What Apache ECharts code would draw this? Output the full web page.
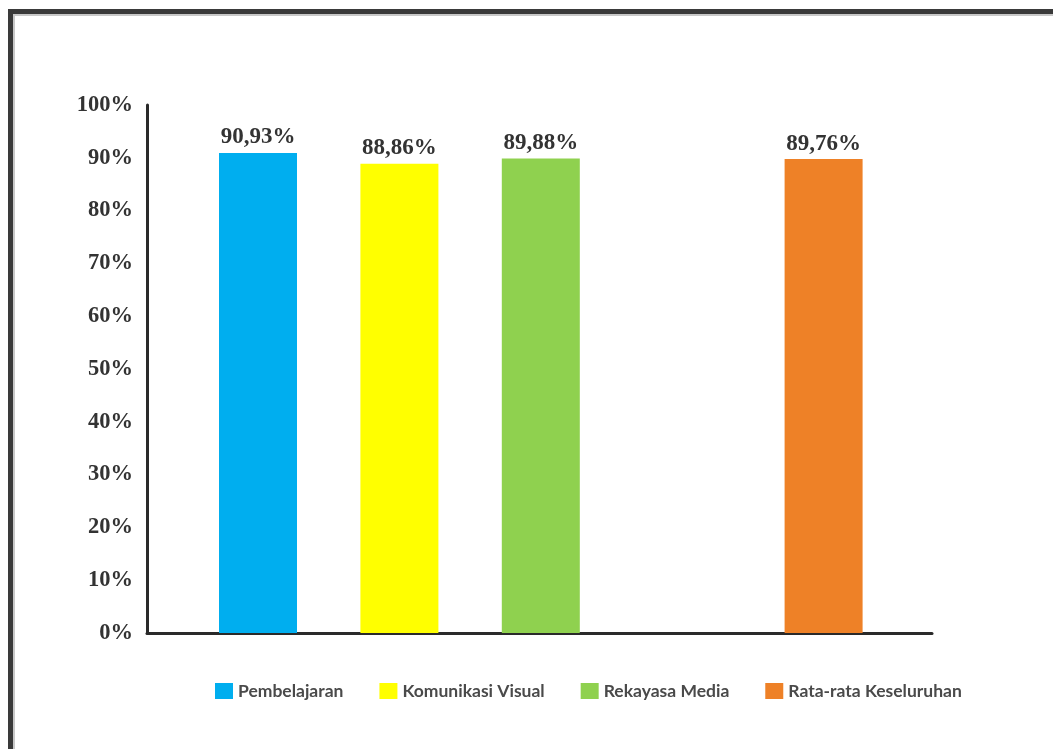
<!DOCTYPE html>
<html>
<head>
<meta charset="utf-8">
<script src="https://cdn.jsdelivr.net/npm/echarts@6/dist/echarts.min.js"></script>
<style>
  html, body { margin: 0; padding: 0; background: #ffffff; }
  #wrap { position: relative; width: 1053px; height: 749px; overflow: hidden; background: #fff; }
  #frame { position: absolute; left: 8px; top: 9px; width: 1100px; height: 800px;
           border-top: 5px solid #3a3a3a; border-left: 5px solid #3a3a3a;
           box-shadow: inset 2px 2px 0 #c8c8c8; }
  #chart { position: absolute; left: 0; top: 0; width: 1053px; height: 749px; }
</style>
</head>
<body>
<div id="wrap">
  <div id="frame"></div>
  <div id="chart"></div>
</div>
<script>
// ---- data ----
const categories = ['Pembelajaran', 'Komunikasi Visual', 'Rekayasa Media', '', 'Rata-rata Keseluruhan'];
const values = [90.93, 88.86, 89.88, null, 89.76];
const colors = ['#00AEEF', '#FFFF00', '#8FD14F', null, '#EE8127'];
const yTicks = [0, 10, 20, 30, 40, 50, 60, 70, 80, 90, 100];

const serifFont = '"Liberation Serif", "DejaVu Serif", serif';

const series = [];
categories.forEach((name, i) => {
  if (values[i] == null) return;
  series.push({
    name: name,
    type: 'bar',
    xAxisIndex: 1,
    yAxisIndex: 1,
    barWidth: 78,
    barGap: '-100%',
    data: categories.map((_, j) => (j === i ? values[i] : '-')),
    itemStyle: { color: colors[i] },
    label: {
      show: true,
      position: 'top',
      distance: 4,
      formatter: p => p.value.toFixed(2).replace('.', ',') + '%',
      fontFamily: serifFont,
      fontWeight: 'bold',
      fontSize: 23,
      color: '#333333'
    }
  });
});
// invisible helper series so the axis grid is rendered
series.push({ type: 'line', xAxisIndex: 0, yAxisIndex: 0, data: [], silent: true });

const chart = echarts.init(document.getElementById('chart'), null, { renderer: 'canvas' });
chart.setOption({
  animation: false,
  backgroundColor: 'transparent',
  legend: {
    data: categories.filter((c, i) => values[i] != null),
    left: 210,
    top: 677,
    icon: 'rect',
    itemWidth: 18,
    itemHeight: 16,
    itemGap: 36,
    textStyle: { fontFamily: 'Lato, "Open Sans", sans-serif', fontWeight: 'bold', fontSize: 17.5, color: '#4a4a4a' }
  },
  grid: [
    { left: 147, top: 105, width: 785, height: 528, containLabel: false },
    { left: 187.3, top: 105, width: 707, height: 528, containLabel: false }
  ],
  xAxis: [
    { gridIndex: 0, type: 'value', min: 0, max: 1, axisLine: { show: true, lineStyle: { color: '#2a2a2a', width: 3 } },
      axisTick: { show: false }, axisLabel: { show: false }, splitLine: { show: false } },
    { gridIndex: 1, type: 'category', data: categories, show: false }
  ],
  yAxis: [
    { gridIndex: 0, type: 'value', min: 0, max: 100, interval: 10,
      axisLine: { show: true, lineStyle: { color: '#2a2a2a', width: 3 } },
      axisTick: { show: false }, splitLine: { show: false },
      axisLabel: { margin: 14, fontFamily: serifFont, fontWeight: 'bold', fontSize: 22.5, color: '#333333',
                   formatter: v => (yTicks.indexOf(v) >= 0 ? v + '%' : '') } },
    { gridIndex: 1, type: 'value', min: 0, max: 100, show: false }
  ],
  series: series
});
</script>
</body>
</html>
